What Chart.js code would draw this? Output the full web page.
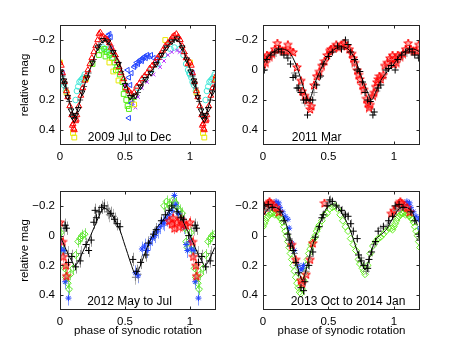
<!DOCTYPE html>
<html><head><meta charset="utf-8">
<script src="https://cdn.jsdelivr.net/npm/chart.js@4/dist/chart.umd.min.js"></script>
<style>
html,body{margin:0;padding:0;background:#fff;}
#wrap{position:relative;width:463px;height:348px;background:#fff;}
canvas{position:absolute;left:0;top:0;}
</style></head><body>
<div id="wrap">
<canvas id="c1" width="463" height="348"></canvas>
<canvas id="c2" width="463" height="348"></canvas>
<canvas id="c3" width="463" height="348"></canvas>
<canvas id="c4" width="463" height="348"></canvas>
</div>
<script>
// ---------- tick labels / titles ----------
const xTickValues = [0, 0.5, 1];
const xTickLabels = ['0', '0.5', '1'];
const yTickValues = [-0.2, 0, 0.2, 0.4];
const yTickLabels = ['\u22120.2', '0', '0.2', '0.4'];
const panelTitles = ['2009 Jul to Dec', '2011 Mar', '2012 May to Jul', '2013 Oct to 2014 Jan'];
const yAxisTitle = 'relative mag';
const xAxisTitle = 'phase of synodic rotation';

// ---------- panel 1 : 2009 Jul to Dec  [phase, relative mag] ----------
const p1Curve = [[0,-0.01],[0.025,0.05],[0.05,0.13],[0.075,0.22],[0.1,0.29],[0.115,0.31],[0.13,0.28],[0.15,0.22],[0.175,0.14],[0.2,0.07],[0.225,0.01],[0.25,-0.05],[0.275,-0.11],[0.3,-0.16],[0.325,-0.19],[0.35,-0.2],[0.375,-0.18],[0.4,-0.14],[0.425,-0.1],[0.45,-0.06],[0.475,0.0],[0.5,0.07],[0.525,0.14],[0.55,0.18],[0.575,0.17],[0.6,0.14],[0.625,0.1],[0.65,0.07],[0.675,0.04],[0.7,0.01],[0.725,-0.02],[0.75,-0.05],[0.775,-0.09],[0.8,-0.13],[0.825,-0.16],[0.85,-0.18],[0.875,-0.2],[0.9,-0.2],[0.925,-0.18],[0.95,-0.13],[0.975,-0.07]];
const p1Red = [[0.0,-0.05],[0.01,-0.03],[0.02,0.02],[0.035,0.08],[0.05,0.14],[0.06,0.18],[0.075,0.24],[0.09,0.3],[0.1,0.36],[0.105,0.39],[0.12,0.34],[0.13,0.3],[0.145,0.24],[0.16,0.17],[0.175,0.12],[0.19,0.07],[0.2,0.04],[0.215,0.0],[0.23,-0.04],[0.245,-0.08],[0.26,-0.12],[0.275,-0.16],[0.29,-0.2],[0.3,-0.24],[0.31,-0.25],[0.32,-0.22],[0.335,-0.22],[0.35,-0.21],[0.365,-0.2],[0.38,-0.18],[0.395,-0.15],[0.41,-0.12],[0.425,-0.1],[0.44,-0.06],[0.455,-0.02],[0.47,0.02],[0.49,0.06],[0.51,0.12],[0.53,0.14],[0.55,0.16],[0.57,0.15],[0.59,0.11],[0.61,0.09],[0.63,0.06],[0.65,0.04],[0.67,0.02],[0.69,-0.01],[0.71,-0.03],[0.73,-0.05],[0.75,-0.08],[0.77,-0.1],[0.79,-0.13],[0.81,-0.16],[0.83,-0.18],[0.85,-0.2],[0.865,-0.22],[0.88,-0.23],[0.895,-0.24],[0.91,-0.22],[0.925,-0.2],[0.94,-0.16],[0.955,-0.12],[0.97,-0.08],[0.985,-0.04],[0.11,0.4],[0.095,0.37],[0.125,0.33]];
const p1Black = [[0.005,0.01],[0.03,0.07],[0.06,0.18],[0.085,0.27],[0.11,0.33],[0.14,0.26],[0.17,0.15],[0.21,0.05],[0.25,-0.05],[0.29,-0.15],[0.33,-0.2],[0.37,-0.19],[0.41,-0.12],[0.45,-0.04],[0.5,0.1],[0.54,0.18],[0.58,0.17],[0.62,0.11],[0.66,0.06],[0.7,0.02],[0.74,-0.04],[0.78,-0.1],[0.82,-0.15],[0.86,-0.19],[0.9,-0.21],[0.94,-0.15],[0.975,-0.07],[0.035,0.09],[0.12,0.3],[0.095,0.31]];
const p1Gray = [[0.02,0.04],[0.045,0.12],[0.07,0.21],[0.095,0.3],[0.12,0.32],[0.155,0.2],[0.185,0.11],[0.22,0.02],[0.26,-0.07],[0.3,-0.17],[0.34,-0.21],[0.39,-0.16],[0.43,-0.09],[0.47,0.01],[0.52,0.14],[0.56,0.19],[0.6,0.15],[0.64,0.08],[0.68,0.03],[0.72,-0.02],[0.76,-0.07],[0.8,-0.13],[0.84,-0.18],[0.88,-0.2],[0.92,-0.19],[0.96,-0.11]];
const p1Cyan = [[0.0,0.03],[0.01,0.05],[0.02,0.08],[0.03,0.1],[0.045,0.14],[0.12,0.2],[0.13,0.14],[0.14,0.11],[0.15,0.08],[0.16,0.07],[0.17,0.06],[0.18,0.05],[0.19,0.03],[0.33,-0.15],[0.35,-0.14],[0.37,-0.13],[0.39,-0.11],[0.41,-0.08],[0.6,0.12],[0.65,0.05],[0.7,0.0],[0.75,-0.04],[0.8,-0.1],[0.85,-0.14],[0.88,-0.15],[0.92,-0.14],[0.95,-0.1],[0.97,-0.04],[0.985,0.0],[0.995,0.02]];
const p1Green = [[0.3,-0.1],[0.32,-0.13],[0.34,-0.14],[0.36,-0.12],[0.38,-0.1],[0.4,-0.08],[0.42,-0.05],[0.44,-0.02],[0.46,0.03],[0.48,0.08],[0.5,0.12],[0.51,0.2],[0.52,0.24],[0.53,0.26],[0.55,0.2],[0.57,0.18],[0.25,-0.04],[0.35,-0.09],[0.43,0.0],[0.49,0.16]];
const p1Yellow = [[0.05,0.15],[0.1,0.42],[0.11,0.45],[0.38,-0.05],[0.41,0.01],[0.45,0.07],[0.81,-0.2],[0.57,0.23],[0.2,0.06],[0.0,-0.05]];
const p1Blue = [[0.37,-0.23],[0.38,-0.24],[0.39,-0.22],[0.52,0.0],[0.53,0.05],[0.54,0.1],[0.55,0.02],[0.57,-0.02],[0.58,-0.03],[0.59,-0.05],[0.6,-0.04],[0.61,-0.06],[0.62,-0.07],[0.63,-0.06],[0.64,-0.08],[0.65,-0.09],[0.66,-0.08],[0.67,-0.1],[0.68,-0.09],[0.7,-0.1],[0.72,-0.08],[0.74,-0.07],[0.02,0.02],[0.53,0.32],[0.55,0.22]];
const p1Magenta = [[0.56,0.22],[0.58,0.25],[0.6,0.18],[0.63,0.12],[0.67,0.08],[0.72,0.03],[0.77,-0.02],[0.8,-0.06],[0.83,-0.1],[0.86,-0.12],[0.9,-0.13],[0.92,-0.12],[0.4,-0.15],[0.5,0.1]];

// ---------- panel 2 : 2011 Mar ----------
const p2Curve = [[0,-0.04],[0.05,-0.1],[0.1,-0.13],[0.15,-0.14],[0.2,-0.12],[0.25,-0.04],[0.3,0.09],[0.33,0.17],[0.35,0.21],[0.37,0.17],[0.4,0.08],[0.45,-0.02],[0.5,-0.1],[0.55,-0.14],[0.6,-0.155],[0.65,-0.14],[0.7,-0.08],[0.75,0.04],[0.8,0.15],[0.83,0.2],[0.86,0.15],[0.9,0.07],[0.95,0.01]];
const p2Red = [[0.0,-0.04],[0.01,-0.08],[0.02,-0.05],[0.03,-0.1],[0.05,-0.09],[0.07,-0.11],[0.09,-0.14],[0.11,-0.18],[0.13,-0.14],[0.15,-0.13],[0.17,-0.13],[0.19,-0.17],[0.21,-0.13],[0.23,-0.12],[0.26,-0.02],[0.29,0.07],[0.3,0.14],[0.32,0.17],[0.34,0.2],[0.36,0.26],[0.37,0.24],[0.39,0.1],[0.41,0.04],[0.43,0.01],[0.45,-0.03],[0.47,-0.06],[0.49,-0.1],[0.51,-0.13],[0.52,-0.14],[0.54,-0.15],[0.56,-0.17],[0.58,-0.15],[0.6,-0.17],[0.62,-0.18],[0.64,-0.16],[0.66,-0.14],[0.68,-0.11],[0.69,-0.08],[0.7,-0.05],[0.72,0.0],[0.73,0.03],[0.74,0.06],[0.76,0.1],[0.77,0.13],[0.79,0.19],[0.8,0.22],[0.81,0.25],[0.82,0.23],[0.84,0.17],[0.85,0.15],[0.86,0.11],[0.87,0.08],[0.88,0.06],[0.89,0.04],[0.9,0.06],[0.92,0.03],[0.93,-0.03],[0.95,-0.05],[0.97,-0.08],[0.99,-0.1]];
const p2Black = [[0.01,0.0],[0.03,-0.07],[0.06,-0.1],[0.09,-0.12],[0.12,-0.14],[0.14,-0.12],[0.16,-0.1],[0.19,-0.08],[0.21,-0.04],[0.23,0.05],[0.25,0.04],[0.26,0.12],[0.27,0.12],[0.29,0.15],[0.31,0.2],[0.33,0.2],[0.34,0.3],[0.36,0.2],[0.38,0.2],[0.41,0.1],[0.44,0.04],[0.46,-0.04],[0.5,-0.09],[0.53,-0.12],[0.57,-0.16],[0.6,-0.14],[0.63,-0.2],[0.65,-0.17],[0.67,-0.12],[0.7,-0.07],[0.72,0.0],[0.74,0.01],[0.76,0.08],[0.78,0.15],[0.8,0.2],[0.82,0.21],[0.84,0.3],[0.85,0.28],[0.88,0.12],[0.9,0.1],[0.94,0.0],[0.96,-0.01],[0.98,-0.03]];
const p2Gray = [[0.05,-0.08],[0.1,-0.11],[0.18,-0.1],[0.24,0.02],[0.28,0.1],[0.32,0.22],[0.39,0.15],[0.43,0.05],[0.62,-0.16],[0.7,-0.04],[0.77,0.12],[0.83,0.26],[0.87,0.14],[0.92,0.05],[0.97,-0.06]];

// ---------- panel 3 : 2012 May to Jul ----------
const p3Curve = [[0,0.0],[0.03,0.06],[0.06,0.12],[0.09,0.17],[0.11,0.2],[0.13,0.19],[0.16,0.14],[0.19,0.08],[0.22,0.03],[0.25,-0.03],[0.28,-0.09],[0.31,-0.15],[0.34,-0.185],[0.37,-0.17],[0.4,-0.14],[0.43,-0.09],[0.46,-0.04],[0.49,0.04],[0.52,0.12],[0.55,0.2],[0.58,0.26],[0.61,0.22],[0.64,0.15],[0.67,0.08],[0.7,0.02],[0.73,-0.03],[0.76,-0.07],[0.79,-0.1],[0.82,-0.14],[0.85,-0.18],[0.88,-0.19],[0.91,-0.16],[0.94,-0.11],[0.97,-0.05]];
const p3Black = [[0.04,-0.07],[0.05,-0.05],[0.065,0.18],[0.09,0.14],[0.12,0.21],[0.155,0.17],[0.2,0.06],[0.22,0.1],[0.24,0.03],[0.26,-0.09],[0.28,-0.12],[0.27,-0.17],[0.3,-0.16],[0.32,-0.19],[0.34,-0.2],[0.39,-0.15],[0.42,-0.11],[0.44,-0.08],[0.46,-0.06],[0.56,0.16],[0.59,0.24],[0.62,0.18],[0.66,0.13],[0.68,0.05],[0.72,-0.01],[0.74,-0.04],[0.78,-0.1],[0.81,-0.14],[0.84,-0.17],[0.86,-0.2],[0.9,-0.16],[0.93,-0.12],[0.95,-0.11],[0.99,0.0]];
const p3Gray = [[0.03,-0.05],[0.06,0.12],[0.36,-0.18],[0.37,-0.16],[0.38,-0.14],[0.41,-0.13],[0.58,0.28],[0.6,0.26],[0.93,-0.13],[0.94,-0.1],[0.16,0.12]];
const p3Red = [[0.0,-0.09],[0.02,0.04],[0.025,0.14],[0.045,0.2],[0.05,0.27],[0.84,-0.1],[0.86,-0.08],[0.87,-0.12],[0.88,-0.05],[0.9,-0.09],[0.92,-0.06],[0.93,-0.11],[0.95,-0.08],[0.97,-0.07]];
const p3Blue = [[0.0,0.04],[0.01,0.09],[0.03,0.1],[0.04,0.31],[0.065,0.42],[0.58,0.25],[0.6,0.27],[0.63,0.09],[0.65,0.07],[0.67,0.1],[0.69,0.05],[0.71,0.02],[0.73,0.0],[0.75,-0.03],[0.77,-0.06],[0.79,-0.09],[0.8,-0.08],[0.82,-0.11],[0.84,-0.14],[0.86,-0.17],[0.88,-0.27],[0.89,-0.21],[0.91,-0.15],[0.95,-0.06],[0.97,0.06],[0.98,0.1]];
const p3Green = [[0.005,-0.02],[0.02,0.1],[0.035,0.22],[0.045,0.28],[0.06,0.32],[0.07,0.36],[0.08,0.26],[0.1,0.22],[0.12,0.13],[0.14,0.04],[0.155,0.02],[0.17,0.0],[0.19,-0.01],[0.8,-0.2],[0.82,-0.23],[0.84,-0.21],[0.85,-0.19],[0.87,-0.24],[0.89,-0.22],[0.9,-0.19],[0.92,-0.17],[0.94,-0.15],[0.96,-0.05],[0.97,0.04],[0.98,0.08]];
const p3ErrBars = {black: 0.045, gray: 0.05, red: 0.04, blue: 0.05, green: 0.04};

// ---------- panel 4 : 2013 Oct to 2014 Jan ----------
const p4Curve = [[0,-0.13],[0.03,-0.17],[0.06,-0.19],[0.09,-0.19],[0.12,-0.18],[0.15,-0.14],[0.18,-0.07],[0.21,0.02],[0.24,0.12],[0.27,0.23],[0.3,0.3],[0.32,0.26],[0.34,0.19],[0.37,0.09],[0.4,0.01],[0.43,-0.07],[0.46,-0.14],[0.49,-0.19],[0.52,-0.21],[0.55,-0.21],[0.58,-0.18],[0.61,-0.14],[0.64,-0.09],[0.67,-0.03],[0.7,0.05],[0.73,0.13],[0.76,0.2],[0.78,0.23],[0.8,0.19],[0.83,0.1],[0.86,0.03],[0.89,0.0],[0.92,-0.02],[0.95,-0.05],[0.98,-0.1]];
const p4Green = [[0.0,-0.06],[0.01,-0.08],[0.02,-0.1],[0.03,-0.12],[0.04,-0.13],[0.05,-0.14],[0.06,-0.15],[0.07,-0.15],[0.08,-0.16],[0.09,-0.14],[0.1,-0.15],[0.11,-0.14],[0.12,-0.13],[0.13,-0.12],[0.14,-0.11],[0.15,-0.09],[0.16,-0.06],[0.17,-0.03],[0.18,0.0],[0.19,0.04],[0.2,0.08],[0.21,0.12],[0.22,0.16],[0.23,0.2],[0.24,0.24],[0.25,0.28],[0.26,0.32],[0.27,0.35],[0.28,0.38],[0.29,0.39],[0.3,0.36],[0.31,0.3],[0.32,0.25],[0.33,0.2],[0.34,0.16],[0.35,0.12],[0.36,0.09],[0.37,0.06],[0.38,0.04],[0.39,0.02],[0.4,0.0],[0.41,-0.03],[0.42,-0.05],[0.43,-0.07],[0.45,-0.1],[0.47,-0.14],[0.49,-0.15],[0.51,-0.18],[0.53,-0.19],[0.55,-0.2],[0.57,-0.18],[0.59,-0.14],[0.61,-0.1],[0.63,-0.06],[0.65,-0.03],[0.67,0.02],[0.69,0.06],[0.71,0.1],[0.73,0.16],[0.74,0.19],[0.76,0.22],[0.77,0.24],[0.78,0.26],[0.8,0.2],[0.82,0.12],[0.84,0.07],[0.86,0.04],[0.88,0.02],[0.9,0.01],[0.92,-0.01],[0.94,-0.03],[0.96,-0.05],[0.98,-0.05],[0.99,-0.04]];
const p4Black = [[0.01,-0.2],[0.04,-0.21],[0.07,-0.19],[0.13,-0.16],[0.16,-0.1],[0.19,-0.01],[0.2,0.03],[0.21,0.07],[0.23,0.1],[0.25,0.18],[0.27,0.25],[0.29,0.35],[0.31,0.37],[0.32,0.31],[0.35,0.2],[0.38,0.11],[0.4,0.01],[0.43,-0.06],[0.45,-0.12],[0.46,-0.14],[0.49,-0.2],[0.51,-0.24],[0.53,-0.23],[0.56,-0.2],[0.6,-0.17],[0.63,-0.14],[0.65,-0.13],[0.67,-0.08],[0.69,-0.03],[0.72,0.02],[0.73,0.13],[0.75,0.17],[0.77,0.2],[0.8,0.22],[0.81,0.16],[0.83,0.11],[0.86,0.04],[0.88,-0.03],[0.92,-0.06],[0.96,-0.1],[0.99,-0.13]];
const p4Gray = [[0.02,-0.17],[0.05,-0.18],[0.2,0.02],[0.24,0.12],[0.26,0.2],[0.33,0.24],[0.36,0.14],[0.5,-0.22],[0.58,-0.19],[0.62,-0.15],[0.75,0.15],[0.79,0.24],[0.85,0.06],[0.9,-0.05],[0.95,-0.07]];
const p4Red = [[0.0,-0.17],[0.02,-0.19],[0.04,-0.22],[0.05,-0.23],[0.06,-0.22],[0.08,-0.2],[0.1,-0.19],[0.12,-0.16],[0.22,0.06],[0.25,0.16],[0.29,0.3],[0.3,0.32],[0.33,0.26],[0.36,0.16],[0.38,0.05],[0.47,-0.22],[0.98,-0.15]];
const p4Blue = [[0.08,-0.2],[0.1,-0.23],[0.11,-0.21],[0.12,-0.22],[0.13,-0.19],[0.15,-0.16],[0.17,-0.13],[0.19,-0.11],[0.2,-0.05],[0.22,0.05],[0.24,0.1],[0.27,0.2],[0.29,0.23],[0.3,0.22],[0.31,0.2]];
const p4ErrBars = {black: 0.03};

// ---------- helpers ----------
// the original plots each phase once more at phase+1, up to phase 1.2
function wrapPhase(pts) {
  const out = pts.map(p => ({x: p[0], y: p[1]}));
  pts.forEach(p => { if (p[0] + 1 <= 1.2001) out.push({x: p[0] + 1, y: p[1]}); });
  return out;
}
function makeStar(stroke, fill, size) {
  const c = document.createElement('canvas');
  c.width = size; c.height = size;
  const g = c.getContext('2d');
  const cx = size / 2, cy = size / 2 + 0.5, R = size / 2 - 0.5, r = R * 0.42;
  g.beginPath();
  for (let k = 0; k < 10; k++) {
    const ang = -Math.PI / 2 + k * Math.PI / 5;
    const rr = k % 2 === 0 ? R : r;
    const px = cx + rr * Math.cos(ang), py = cy + rr * Math.sin(ang);
    if (k === 0) g.moveTo(px, py); else g.lineTo(px, py);
  }
  g.closePath();
  g.fillStyle = fill; g.fill();
  g.strokeStyle = stroke; g.lineWidth = 1; g.stroke();
  return c;
}
const redStar = makeStar('#ff0000', 'rgba(255,90,90,0.55)', 10);

function markers(pts, style, color, extra) {
  return Object.assign({
    data: wrapPhase(pts), showLine: false, pointStyle: style, pointRadius: 3,
    borderColor: color, backgroundColor: 'rgba(0,0,0,0)', pointBorderWidth: 1, pointHoverRadius: 0
  }, extra || {});
}
function curve(pts) {
  return {data: wrapPhase(pts), showLine: true, pointRadius: 0, borderColor: '#000',
          borderWidth: 1, tension: 0.3, backgroundColor: 'rgba(0,0,0,0)'};
}

const FONT = {family: '"Liberation Sans", Arial, Helvetica, sans-serif', size: 11.5};

const boxPlugin = {
  id: 'mbox',
  afterDatasetsDraw(chart) {
    const {ctx, chartArea: a, scales: {x, y}} = chart;
    ctx.save();
    ctx.strokeStyle = '#262626'; ctx.lineWidth = 1;
    const L = Math.round(a.left) + 0.5, R = Math.round(a.right) - 0.5;
    const T = Math.round(a.top) + 0.5, B = Math.round(a.bottom) - 0.5;
    ctx.strokeRect(L, T, R - L, B - T);
    ctx.beginPath();
    xTickValues.forEach(v => {
      const px = Math.round(x.getPixelForValue(v)) + 0.5;
      ctx.moveTo(px, B); ctx.lineTo(px, B - 3);
      ctx.moveTo(px, T); ctx.lineTo(px, T + 3);
    });
    yTickValues.forEach(v => {
      const py = Math.round(y.getPixelForValue(v)) + 0.5;
      ctx.moveTo(L, py); ctx.lineTo(L + 3, py);
      ctx.moveTo(R, py); ctx.lineTo(R - 3, py);
    });
    ctx.stroke();
    const t = chart.options.plugins.panelText;
    if (t) {
      ctx.fillStyle = '#000';
      ctx.font = '12px "Liberation Sans", Arial, Helvetica, sans-serif';
      ctx.textAlign = 'center'; ctx.textBaseline = 'middle';
      ctx.fillText(t.text, x.getPixelForValue(t.x), y.getPixelForValue(t.y));
    }
    ctx.restore();
  }
};
const errPlugin = {
  id: 'errbars',
  beforeDatasetsDraw(chart) {
    const {ctx, chartArea: a, scales: {y}} = chart;
    ctx.save();
    ctx.beginPath(); ctx.rect(a.left, a.top, a.right - a.left, a.bottom - a.top); ctx.clip();
    chart.data.datasets.forEach((d, i) => {
      if (!d.errSize) return;
      const meta = chart.getDatasetMeta(i);
      ctx.strokeStyle = d.errColor; ctx.lineWidth = 1;
      ctx.beginPath();
      meta.data.forEach((pt, j) => {
        const v = d.data[j].y;
        const px = Math.round(pt.x) + 0.5;
        ctx.moveTo(px, y.getPixelForValue(v - d.errSize));
        ctx.lineTo(px, y.getPixelForValue(v + d.errSize));
      });
      ctx.stroke();
    });
    ctx.restore();
  }
};

function makeChart(id, box, datasets, opts) {
  const yW = opts.yTitle ? 45 : 40;
  const xH = opts.xTitle ? 28 : 20;
  return new Chart(document.getElementById(id), {
    type: 'scatter',
    data: {datasets},
    options: {
      responsive: false, animation: false, events: [],
      layout: {padding: {left: box.L - yW, top: box.T, right: 463 - box.R, bottom: 348 - box.B - xH}},
      plugins: {legend: {display: false}, tooltip: {enabled: false}, panelText: opts.text},
      scales: {
        x: {
          type: 'linear', min: 0, max: 1.2,
          grid: {display: false, drawTicks: false}, border: {display: false},
          afterBuildTicks: s => { s.ticks = xTickValues.map(v => ({value: v})); },
          afterFit: s => { s.height = xH; },
          ticks: {callback: (v, i) => xTickLabels[i], padding: 5, font: FONT, color: '#000', maxRotation: 0, autoSkip: false},
          title: {display: !!opts.xTitle, text: xAxisTitle, font: FONT, color: '#000', padding: {top: 0, bottom: 0}}
        },
        y: {
          type: 'linear', min: -0.3, max: 0.5, reverse: true,
          grid: {display: false, drawTicks: false}, border: {display: false},
          afterBuildTicks: s => { s.ticks = yTickValues.map(v => ({value: v})); },
          afterFit: s => { s.width = yW; },
          ticks: {callback: (v, i) => yTickLabels[i], padding: 5, font: FONT, color: '#000', autoSkip: false},
          title: {display: !!opts.yTitle, text: yAxisTitle, font: FONT, color: '#000', padding: {top: 3, bottom: 0}}
        }
      }
    },
    plugins: [errPlugin, boxPlugin]
  });
}

// ---------- panels ----------
makeChart('c1', {L: 60, T: 25, R: 216, B: 145}, [
  markers(p1Black, 'triangle', '#000000', {rotation: 180, pointRadius: 3.2}),
  curve(p1Curve),
  markers(p1Red, 'triangle', '#ff0000', {pointRadius: 3.4}),
  markers(p1Gray, 'cross', '#555555', {pointRadius: 3}),
  markers(p1Yellow, 'rect', '#e8e800', {pointRadius: 3.4}),
  markers(p1Magenta, 'crossRot', '#bb33ff', {pointRadius: 2.6}),
  markers(p1Blue, 'triangle', '#2244ff', {rotation: 270, pointRadius: 3}),
  markers(p1Green, 'rect', '#55ee11', {pointRadius: 3.4}),
  markers(p1Cyan, 'circle', '#44e8d8', {pointRadius: 2.8})
], {yTitle: true, text: {text: panelTitles[0], x: 0.535, y: 0.452}});

makeChart('c2', {L: 263, T: 25, R: 420, B: 145}, [
  curve(p2Curve),
  markers(p2Black, 'cross', '#000000', {pointRadius: 3.5}),
  markers(p2Red, redStar, '#ff0000'),
  markers(p2Gray, 'cross', '#888888', {pointRadius: 3.5})
], {text: {text: panelTitles[1], x: 0.41, y: 0.452}});

makeChart('c3', {L: 60, T: 191, R: 216, B: 310}, [
  curve(p3Curve),
  markers(p3Black, 'cross', '#000000', {pointRadius: 3.5, errSize: p3ErrBars.black, errColor: 'rgba(110,110,110,0.7)'}),
  markers(p3Red, redStar, '#ff0000', {errSize: p3ErrBars.red, errColor: 'rgba(255,110,110,0.85)'}),
  markers(p3Blue, 'star', '#2244ff', {pointRadius: 3, errSize: p3ErrBars.blue, errColor: 'rgba(110,140,255,0.85)'}),
  markers(p3Green, 'rectRot', '#55e822', {pointRadius: 3.4, errSize: p3ErrBars.green, errColor: 'rgba(120,225,90,0.85)'}),
  markers(p3Gray, 'cross', '#777777', {pointRadius: 3.5, errSize: p3ErrBars.gray, errColor: 'rgba(150,150,150,0.7)'})
], {yTitle: true, xTitle: true, text: {text: panelTitles[2], x: 0.535, y: 0.444}});

makeChart('c4', {L: 263, T: 191, R: 420, B: 310}, [
  curve(p4Curve),
  markers(p4Black, 'cross', '#000000', {pointRadius: 3.5, errSize: p4ErrBars.black, errColor: 'rgba(130,130,130,0.7)'}),
  markers(p4Gray, 'cross', '#888888', {pointRadius: 3.5}),
  markers(p4Red, redStar, '#ff0000'),
  markers(p4Blue, 'star', '#2244ff', {pointRadius: 3}),
  markers(p4Green, 'rectRot', '#66ee22', {pointRadius: 3.4})
], {xTitle: true, text: {text: panelTitles[3], x: 0.65, y: 0.444}});
</script>
</body></html>
